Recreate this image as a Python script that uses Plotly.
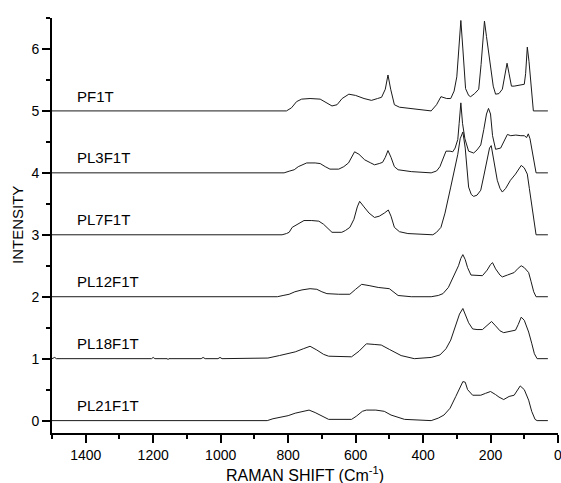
import plotly.graph_objects as go

# Raman shift (cm^-1) / relative intensity pairs for each sample (before vertical offset)
pf1t_x = [1500, 805, 790, 775, 760, 735, 705, 685, 670, 655, 640, 620, 600, 575, 553, 535, 523, 512, 504, 496,
          485, 470, 440, 400, 376, 360, 347, 330, 318, 308, 300, 294, 288, 282, 274, 265, 259, 247, 235, 228,
          222, 218, 212, 205, 200, 192, 185, 175, 165, 158, 151, 145, 138, 130, 115, 100, 96, 91, 86, 80, 77, 73, 30]
pf1t_y = [0, 0, 0.05, 0.15, 0.19, 0.2, 0.19, 0.13, 0.08, 0.1, 0.2, 0.27, 0.25, 0.2, 0.17, 0.2, 0.22, 0.35, 0.58, 0.35,
          0.1, 0.06, 0.04, 0.02, 0, 0.1, 0.23, 0.2, 0.2, 0.32, 0.55, 1.0, 1.46, 1.0, 0.36, 0.25, 0.23, 0.28, 0.35, 0.75,
          1.2, 1.45, 1.2, 0.9, 0.7, 0.4, 0.27, 0.28, 0.35, 0.6, 0.77, 0.6, 0.4, 0.4, 0.42, 0.43, 0.6, 1.03, 0.8, 0.4, 0.2, 0, 0]

pl3_x = [1500, 812, 795, 782, 770, 759, 745, 720, 705, 690, 676, 650, 635, 621, 603, 590, 573, 555, 544, 530,
         520, 512, 504, 495, 485, 474, 435, 376, 360, 350, 340, 332, 320, 312, 305, 297, 293, 288, 283, 276,
         265, 250, 240, 229, 220, 212, 206, 200, 194, 185, 170, 160, 150, 140, 125, 110, 100, 93, 88, 83, 77, 70, 65, 30]
pl3_y = [0, 0, 0.03, 0.05, 0.1, 0.13, 0.16, 0.16, 0.15, 0.1, 0.06, 0.06, 0.1, 0.16, 0.34, 0.3, 0.21, 0.16, 0.13, 0.15,
         0.17, 0.25, 0.36, 0.25, 0.1, 0.05, 0.02, 0, 0.03, 0.1, 0.25, 0.35, 0.35, 0.34, 0.4, 0.54, 0.8, 1.13, 0.8, 0.55,
         0.35, 0.32, 0.37, 0.45, 0.7, 0.95, 1.04, 0.95, 0.6, 0.38, 0.4, 0.5, 0.62, 0.6, 0.61, 0.6, 0.6, 0.57, 0.63, 0.55, 0.38, 0.15, 0, 0]

pl7_x = [1500, 818, 805, 797, 788, 770, 753, 730, 709, 695, 685, 670, 641, 630, 617, 605, 595, 588, 575, 560,
         544, 530, 515, 503, 495, 485, 470, 445, 371, 360, 347, 335, 318, 305, 297, 290, 282, 275, 265, 257,
         250, 240, 229, 220, 210, 203, 198, 190, 180, 172, 165, 155, 141, 126, 115, 109, 100, 91, 85, 79, 72, 65, 30]
pl7_y = [0, 0, 0.02, 0.04, 0.12, 0.18, 0.23, 0.23, 0.22, 0.17, 0.12, 0.04, 0.04, 0.07, 0.12, 0.25, 0.45, 0.54, 0.45, 0.35,
         0.28, 0.3, 0.35, 0.4, 0.3, 0.12, 0.05, 0.02, 0, 0.04, 0.12, 0.35, 0.77, 1.1, 1.3, 1.55, 1.66, 1.4, 0.77, 0.65,
         0.62, 0.64, 0.72, 0.95, 1.2, 1.4, 1.44, 1.2, 0.88, 0.75, 0.69, 0.75, 0.88, 0.98, 1.08, 1.12, 1.08, 0.98, 0.75, 0.5, 0.2, 0, 0]

pl12_x = [1500, 832, 815, 797, 780, 759, 735, 715, 700, 685, 650, 617, 600, 582, 560, 533, 500, 485, 474, 435,
          376, 355, 341, 325, 309, 295, 288, 282, 275, 268, 258, 240, 224, 210, 200, 194, 185, 172, 165, 150,
          130, 118, 109, 100, 87, 80, 72, 65, 30]
pl12_y = [0, 0, 0.02, 0.04, 0.08, 0.11, 0.13, 0.12, 0.08, 0.05, 0.04, 0.04, 0.12, 0.2, 0.18, 0.15, 0.13, 0.06, 0.02, 0,
          0, 0.02, 0.05, 0.15, 0.33, 0.5, 0.62, 0.68, 0.6, 0.47, 0.35, 0.34, 0.34, 0.43, 0.52, 0.55, 0.45, 0.35, 0.32, 0.35,
          0.39, 0.46, 0.5, 0.47, 0.39, 0.25, 0.08, 0, 0]

pl18_x = [1500, 1492, 1487, 1205, 1200, 1195, 1158, 1156, 1154, 1058, 1052, 1046, 1008, 1002, 996, 880, 860, 826, 800, 779,
          755, 735, 715, 695, 680, 640, 612, 590, 568, 545, 524, 500, 480, 465, 426, 376, 350, 332, 318, 303,
          292, 282, 275, 265, 253, 240, 224, 210, 197, 185, 172, 161, 140, 126, 118, 109, 100, 87, 78, 70, 62, 30]
pl18_y = [0, 0.02, 0, 0, 0.02, 0, 0, -0.015, 0, 0, 0.02, 0, 0, 0.02, 0, 0, 0.01, 0.05, 0.08, 0.11,
          0.16, 0.2, 0.14, 0.07, 0.04, 0.03, 0.03, 0.12, 0.24, 0.23, 0.22, 0.15, 0.09, 0.05, 0, 0.02, 0.06, 0.16, 0.3, 0.54,
          0.72, 0.81, 0.72, 0.58, 0.48, 0.47, 0.47, 0.53, 0.6, 0.53, 0.45, 0.42, 0.44, 0.46, 0.55, 0.67, 0.62, 0.43, 0.25, 0.08, 0, 0]

pl21_x = [1500, 862, 845, 818, 800, 779, 760, 738, 720, 700, 680, 612, 598, 580, 568, 540, 515, 495, 475, 455,
          376, 355, 338, 320, 303, 290, 282, 275, 268, 253, 229, 215, 200, 185, 175, 161, 145, 130, 120, 112,
          100, 87, 78, 68, 62, 30]
pl21_y = [0, 0, 0.03, 0.06, 0.08, 0.12, 0.14, 0.17, 0.13, 0.07, 0.02, 0.02, 0.07, 0.15, 0.17, 0.17, 0.15, 0.09, 0.05, 0.02,
          0, 0.04, 0.09, 0.2, 0.39, 0.55, 0.63, 0.62, 0.5, 0.41, 0.41, 0.44, 0.47, 0.42, 0.38, 0.34, 0.39, 0.41, 0.5, 0.56,
          0.5, 0.33, 0.15, 0.02, 0, 0]

sample_names = ["PF1T", "PL3F1T", "PL7F1T", "PL12F1T", "PL18F1T", "PL21F1T"]
offsets = [5, 4, 3, 2, 1, 0]
series_x = [pf1t_x, pl3_x, pl7_x, pl12_x, pl18_x, pl21_x]
series_y = [pf1t_y, pl3_y, pl7_y, pl12_y, pl18_y, pl21_y]

x_ticks = [0, 200, 400, 600, 800, 1000, 1200, 1400]
y_ticks = [0, 1, 2, 3, 4, 5, 6]

FONT = "Liberation Sans, Arial, sans-serif"

W, H = 561, 483
ML, MR, MT, MB = 52, 3, 18, 50

fig = go.Figure()
for name, off, xs, ys in zip(sample_names, offsets, series_x, series_y):
    fig.add_trace(go.Scatter(x=xs, y=[v + off for v in ys], mode="lines", name=name,
                             line=dict(color="#1a1a1a", width=1), showlegend=False))
    fig.add_annotation(x=1432, y=off + 0.24, text=name, showarrow=False, xanchor="left", yanchor="middle",
                       font=dict(family=FONT, size=15, color="black"))

plot_w = W - ML - MR
plot_h = H - MT - MB
# axis titles as paper-anchored annotations
fig.add_annotation(xref="paper", yref="paper", x=0.5, y=-(474 - (H - MB)) / plot_h,
                   text="RAMAN SHIFT (Cm<sup>-1</sup>)", showarrow=False, xanchor="center", yanchor="middle",
                   font=dict(family=FONT, size=16, color="black"))
fig.add_annotation(xref="paper", yref="paper", x=(17.5 - ML) / plot_w, y=0.5,
                   text="INTENSITY", textangle=-90, showarrow=False, xanchor="center", yanchor="middle",
                   font=dict(family=FONT, size=15, color="black"))

fig.update_layout(
    width=W, height=H,
    margin=dict(l=ML, r=MR, t=MT, b=MB, autoexpand=False),
    paper_bgcolor="white", plot_bgcolor="white",
    font=dict(family=FONT, color="black"),
)
fig.update_xaxes(
    range=[1500, 0], tickvals=x_ticks, ticktext=[str(v) for v in x_ticks],
    showline=True, linecolor="black", linewidth=2, mirror=False,
    ticks="outside", ticklen=8, tickwidth=2, tickcolor="black",
    minor=dict(dtick=100, tick0=0, ticks="outside", ticklen=4, tickwidth=2, tickcolor="black"),
    showgrid=False, zeroline=False, ticklabeloverflow="allow",
    tickfont=dict(size=14, family=FONT),
)
fig.update_yaxes(
    range=[-0.2, 6.5], tickvals=y_ticks,
    showline=True, linecolor="black", linewidth=2, mirror=False,
    ticks="outside", ticklen=8, tickwidth=2, tickcolor="black",
    minor=dict(dtick=0.5, tick0=0, ticks="outside", ticklen=4, tickwidth=2, tickcolor="black"),
    showgrid=False, zeroline=False, ticklabeloverflow="allow",
    tickfont=dict(size=14, family=FONT),
)

fig.write_html("out.html", config={"displayModeBar": False},
               post_script="document.body.style.margin='0';document.body.style.overflow='hidden';")
